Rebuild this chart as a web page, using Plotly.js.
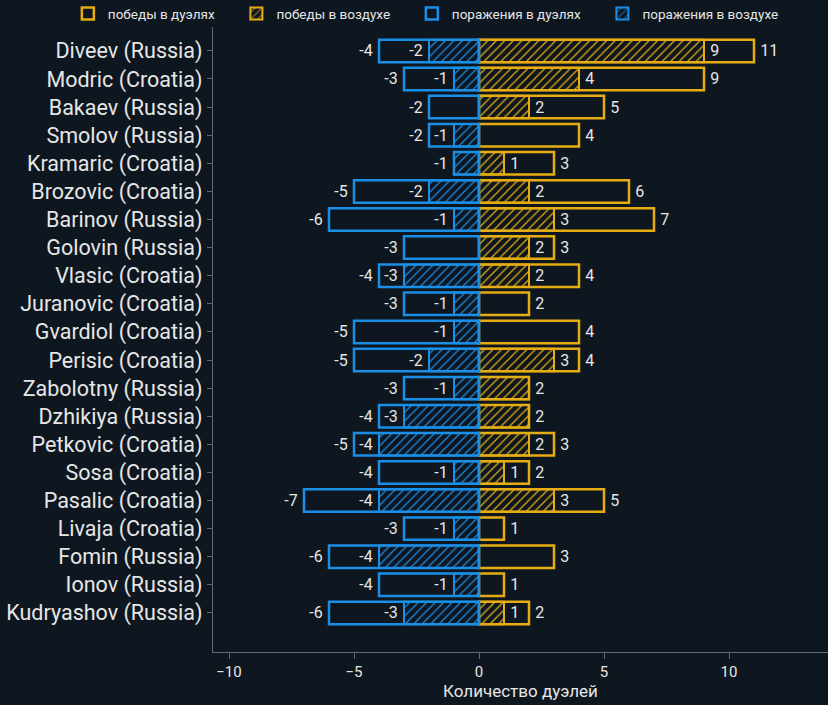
<!DOCTYPE html>
<html>
<head>
<meta charset="utf-8">
<script src="https://cdn.plot.ly/plotly-3.0.1.min.js"></script>
<style>html,body{margin:0;padding:0;background:#0e1720;}</style>
</head>
<body>
<div id="chart" style="width:828px;height:705px;"></div>
<script>
const players = ["Diveev (Russia)","Modric (Croatia)","Bakaev (Russia)","Smolov (Russia)","Kramaric (Croatia)","Brozovic (Croatia)","Barinov (Russia)","Golovin (Russia)","Vlasic (Croatia)","Juranovic (Croatia)","Gvardiol (Croatia)","Perisic (Croatia)","Zabolotny (Russia)","Dzhikiya (Russia)","Petkovic (Croatia)","Sosa (Croatia)","Pasalic (Croatia)","Livaja (Croatia)","Fomin (Russia)","Ionov (Russia)","Kudryashov (Russia)"];
const duelWins   = [11, 9, 5, 4, 3, 6, 7, 3, 4, 2, 4, 4, 2, 2, 3, 2, 5, 1, 3, 1, 2];
const airWins    = [9, 4, 2, 0, 1, 2, 3, 2, 2, 0, 0, 3, 2, 2, 2, 1, 3, 0, 0, 0, 1];
const duelLosses = [-4, -3, -2, -2, -1, -5, -6, -3, -4, -3, -5, -5, -3, -4, -5, -4, -7, -3, -6, -4, -6];
const airLosses  = [-2, -1, 0, -1, -1, -2, -1, 0, -3, -1, -1, -2, -1, -3, -4, -1, -4, -1, -4, -1, -3];
const seriesNames = ["победы в дуэлях", "победы в воздухе", "поражения в дуэлях", "поражения в воздухе"];

const gold = "#e6ad12";
const blue = "#1b8ee6";
const txt = "#e6e6e6";
const sp = "\u2009";
const pad = "\u00a0\u00a0\u00a0\u00a0\u00a0";
const nz = a => a.map(v => v === 0 ? null : v);
const lab = v => v > 0 ? sp + v : v + sp;
const airText = (air, duel) => air.map((v, i) => (v === 0 || v === duel[i]) ? "" : lab(v));
const duelText = duel => duel.map(v => v === 0 ? "" : lab(v));

const common = {
  type: "bar", orientation: "h", y: players, width: 0.8,
  textposition: "outside", cliponaxis: false, constraintext: "none",
  textfont: {family: "Roboto", size: 16, color: txt}, hoverinfo: "x+y"
};

const traces = [
  Object.assign({}, common, {
    name: seriesNames[1] + pad, x: nz(airWins), text: airText(airWins, duelWins),
    marker: {color: "rgba(0,0,0,0)", line: {color: gold, width: 2},
      pattern: {shape: "/", fgcolor: gold, bgcolor: "rgba(0,0,0,0)", size: 6, solidity: 0.2}},
    legendrank: 2
  }),
  Object.assign({}, common, {
    name: seriesNames[3], x: nz(airLosses), text: airText(airLosses, duelLosses),
    marker: {color: "rgba(0,0,0,0)", line: {color: blue, width: 2},
      pattern: {shape: "/", fgcolor: blue, bgcolor: "rgba(0,0,0,0)", size: 6, solidity: 0.2}},
    legendrank: 4
  }),
  Object.assign({}, common, {
    name: seriesNames[0] + pad, x: nz(duelWins), text: duelText(duelWins),
    marker: {color: "rgba(0,0,0,0)", line: {color: gold, width: 2.5}},
    legendrank: 1
  }),
  Object.assign({}, common, {
    name: seriesNames[2] + pad, x: nz(duelLosses), text: duelText(duelLosses),
    marker: {color: "rgba(0,0,0,0)", line: {color: blue, width: 2.5}},
    legendrank: 3
  })
];

const layout = {
  width: 828, height: 705,
  paper_bgcolor: "#0e1720", plot_bgcolor: "#0e1720",
  font: {family: "Roboto", color: txt},
  barmode: "overlay",
  margin: {l: 213, r: 0, t: 27, b: 53, autoexpand: false},
  showlegend: true,
  legend: {orientation: "h", xref: "paper", yref: "paper", x: -0.236, xanchor: "left",
    y: 1.046, yanchor: "top",
    font: {family: "Roboto", size: 13.5, color: txt}, bgcolor: "rgba(0,0,0,0)", itemwidth: 30},
  xaxis: {
    range: [-10.64, 13.96], tickvals: [-10, -5, 0, 5, 10], ticktext: ["−10", "−5", "0", "5", "10"],
    showgrid: false, zeroline: false, showline: true, linecolor: "#5f6b74", linewidth: 1.2,
    ticks: "outside", ticklen: 6, tickcolor: "#5f6b74",
    tickfont: {family: "Roboto", size: 15, color: txt},
    title: {text: "Количество дуэлей", font: {family: "Roboto", size: 17, color: txt}, standoff: 4}
  },
  yaxis: {
    type: "category", range: [21.39, -0.85],
    showgrid: false, zeroline: false, showline: true, linecolor: "#5f6b74", linewidth: 1.2,
    ticks: "outside", ticklen: 5, tickcolor: "#5f6b74",
    tickfont: {family: "Roboto", size: 21.5, color: txt}
  }
};

Plotly.newPlot("chart", traces, layout, {displayModeBar: false, staticPlot: true});
</script>
</body>
</html>
